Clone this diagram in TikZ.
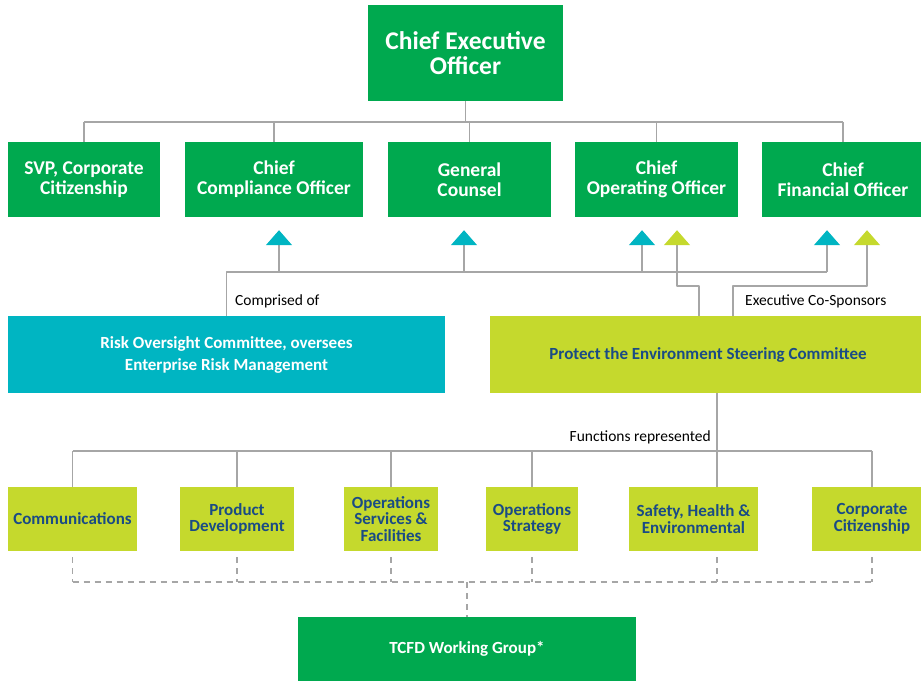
\documentclass[tikz,border=0pt]{standalone}
\usepackage{fontspec}
\setmainfont{Carlito}
\usetikzlibrary{arrows.meta}
\definecolor{darkgreen}{HTML}{00A94F}
\definecolor{riskcyan}{HTML}{00B5C2}
\definecolor{lime}{HTML}{C5D92D}
\definecolor{navy}{HTML}{1A4B85}
\definecolor{linegray}{HTML}{A6A6A6}
\begin{document}
\begin{tikzpicture}[x=1pt, y=-1pt, line join=round,
	box/.style={inner sep=0pt, align=center, font=\bfseries},
	gbox/.style={box, fill=darkgreen, text=white},
	lbox/.style={box, fill=lime, text=navy},
	link/.style={draw=linegray, line width=1.2pt},
	dlink/.style={draw=linegray, line width=1.2pt, dash pattern=on 6pt off 5pt},
	cyantip/.style={link, -{Triangle[width=26pt, length=15pt, color=riskcyan]}},
	limetip/.style={link, -{Triangle[width=26pt, length=15pt, color=lime]}},
	note/.style={inner sep=0pt, font=\fontsize{15.5}{17}\selectfont, text=black}]
	\clip (0,0) rectangle (921,681);
	\fill[white] (0,0) rectangle (921,681);
	% boxes
	\node[gbox, minimum width=195pt, minimum height=96pt, font=\bfseries\fontsize{25.5}{25}\selectfont] (ceo) at (465.5,53) {Chief Executive\\Officer};
	\foreach \n/\x/\w/\t in {svp/84/152/{SVP, Corporate\\Citizenship}, cco/274/178/{Chief\\Compliance Officer}, gc/469.5/163/{General\\Counsel}, coo/656.5/163/{Chief\\Operating Officer}, cfo/843/162/{Chief\\Financial Officer}}
		\node[gbox, minimum width=\w pt, minimum height=75pt, font=\bfseries\fontsize{19.5}{20}\selectfont] (\n) at (\x,179.5) {\t};
	\node[box, fill=riskcyan, text=white, minimum width=437pt, minimum height=77pt, font=\bfseries\fontsize{17}{22}\selectfont] (rom) at (226.5,354.5) {Risk Oversight Committee, oversees\\Enterprise Risk Management};
	\node[lbox, minimum width=436pt, minimum height=77pt, font=\bfseries\fontsize{17}{22}\selectfont] (pesc) at (708,354.5) {Protect the Environment Steering Committee};
	\foreach \n/\x/\w/\t in {comm/72.5/129/{Communications}, pd/237/114/{Product\\Development}, osf/391/94/{Operations\\Services \&\\Facilities}, os/532/92/{Operations\\Strategy}, shem/693.5/129/{Safety, Health \&\\Environmental}, cc/872/120/{Corporate\\Citizenship}}
		\node[lbox, minimum width=\w pt, minimum height=64pt, font=\bfseries\fontsize{17}{16.5}\selectfont] (\n) at (\x,519) {\t};
	\node[gbox, minimum width=338pt, minimum height=64pt, font=\bfseries\fontsize{17}{18}\selectfont] (tcfd) at (467,649) {TCFD Working Group*};
	% CEO tree
	\coordinate (bus) at (0,122);
	\draw[link] (ceo.south) -- (ceo.south |- bus);
	\draw[link] (svp.north |- bus) -- (cfo.north |- bus);
	\foreach \n in {svp,cco,gc,coo,cfo} \draw[link] (\n.north) -- (\n.north |- bus);
	% committee links
	\coordinate (rbus) at (0,272);
	\coordinate (gbus) at (0,286);
	\coordinate (t1) at ([xshift=5pt, yshift=-13pt]cco.south);
	\coordinate (t2) at ([xshift=-5.5pt, yshift=-13pt]gc.south);
	\coordinate (t3) at ([xshift=-14.5pt, yshift=-13pt]coo.south);
	\coordinate (t4) at ([xshift=-16pt, yshift=-13pt]cfo.south);
	\coordinate (l1) at ([xshift=20.5pt, yshift=-13pt]coo.south);
	\coordinate (l2) at ([xshift=24pt, yshift=-13pt]cfo.south);
	\draw[link] (rom.north) |- (t4 |- rbus);
	\foreach \t in {t1,t2,t3,t4} \draw[cyantip] (\t |- rbus) -- (\t);
	\coordinate (p1) at ([xshift=-9pt]pesc.north);
	\coordinate (p2) at ([xshift=25pt]pesc.north);
	\draw[limetip] (p1) -- (p1 |- gbus) -| (l1);
	\draw[limetip] (p2) -- (p2 |- gbus) -| (l2);
	\node[note, anchor=west] (comp) at (235,301) {Comprised of};
	\node[note, anchor=west] (spons) at (745,301) {Executive Co-Sponsors};
	% functions
	\coordinate (fbus) at (0,451);
	\coordinate (f5) at ([xshift=23.5pt]shem.north);
	\draw[link] (pesc.south -| f5) -- (f5);
	\draw[link] (comm.north |- fbus) -- (cc.north |- fbus);
	\foreach \n in {comm,pd,osf,os,cc} \draw[link] (\n.north) -- (\n.north |- fbus);
	\node[note, anchor=east] (func) at (711,437) {Functions represented};
	% working group
	\coordinate (dbus) at (0,582);
	\coordinate (g5) at ([xshift=23.5pt, yshift=-6pt]shem.south);
	\draw[dlink] (comm.south |- dbus) -- (cc.south |- dbus);
	\foreach \n in {comm,pd,osf,os,cc} \draw[dlink] ([yshift=-6pt]\n.south) -- (\n.south |- dbus);
	\draw[dlink] (g5) -- (g5 |- dbus);
	\draw[dlink] (tcfd.north |- dbus) -- (tcfd.north);
\end{tikzpicture}
\end{document}
